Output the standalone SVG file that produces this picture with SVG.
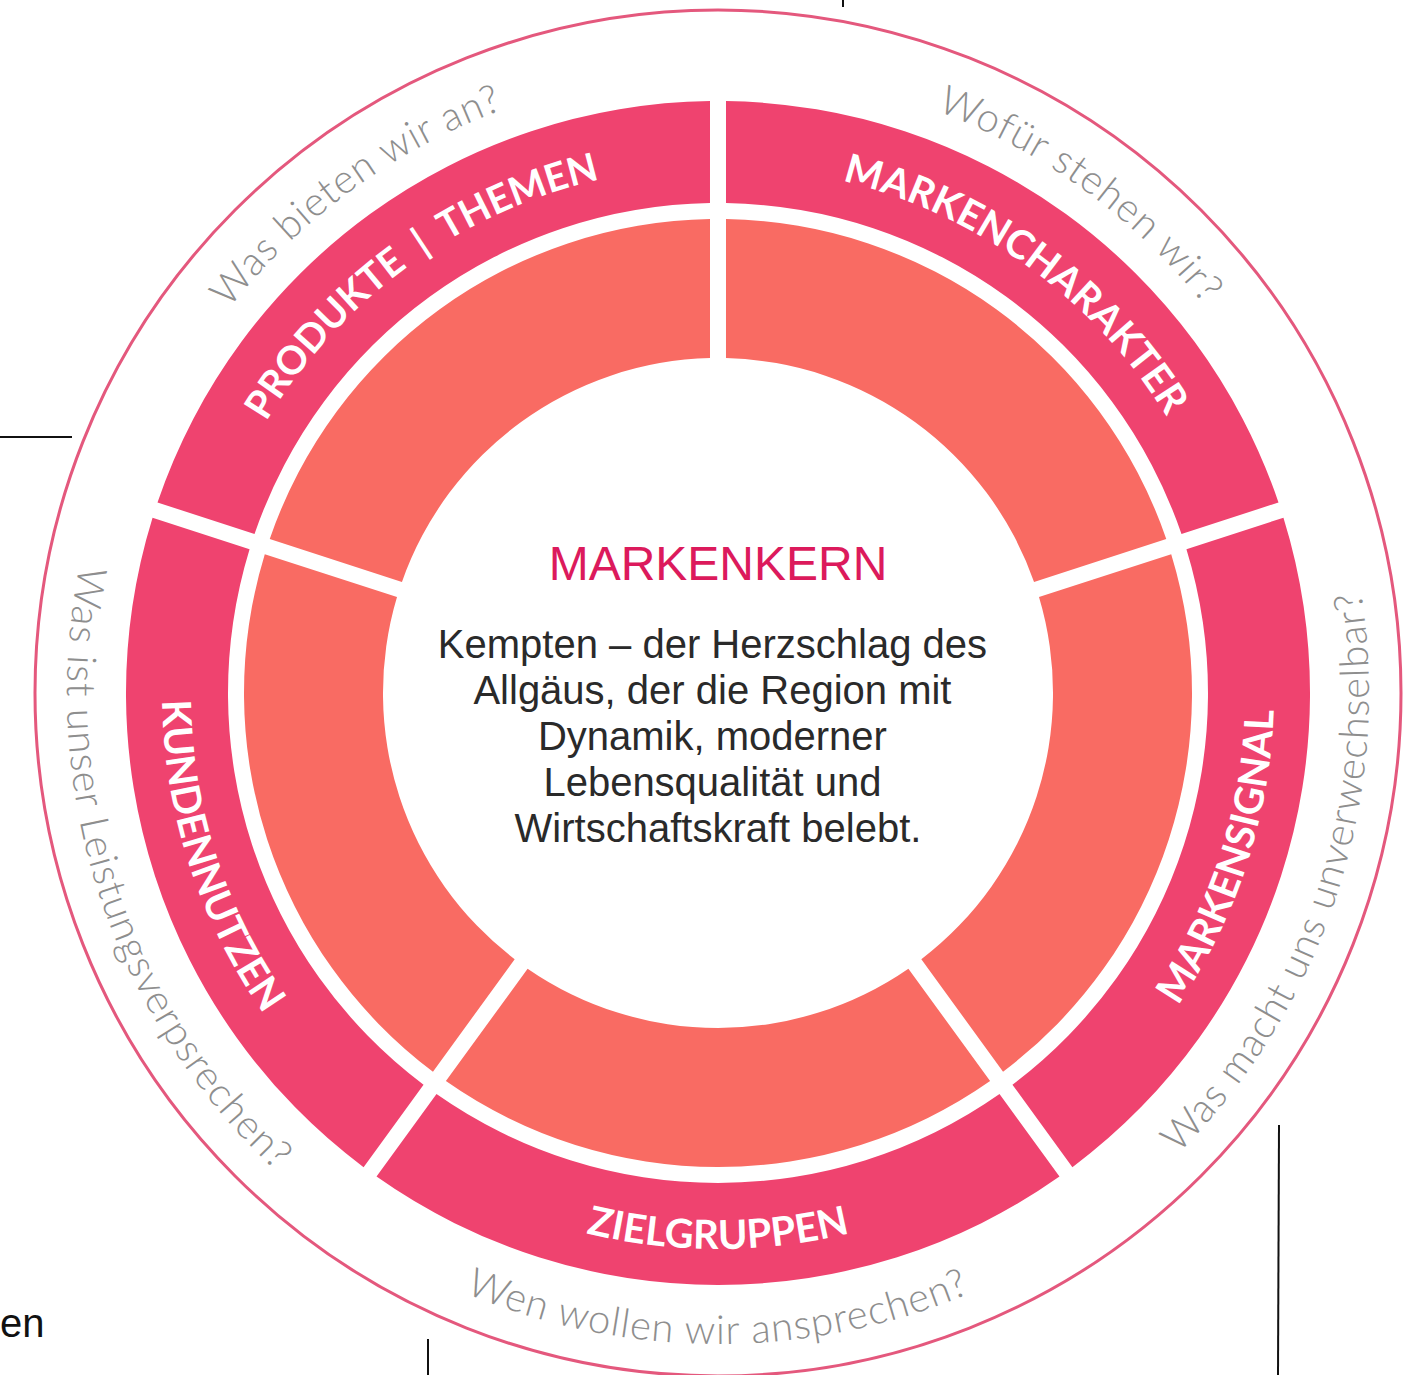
<svg xmlns="http://www.w3.org/2000/svg" width="1415" height="1375" viewBox="0 0 1415 1375">
<style>
.band{fill:#EF436F}
.inner{fill:#F96B63}
.label{font-family:Lato,"Liberation Sans",sans-serif;font-weight:700;font-size:40px;fill:#ffffff;letter-spacing:0px}
.q{font-family:Lato,"Liberation Sans",sans-serif;font-weight:300;font-size:40px;fill:#8e8e8e;letter-spacing:1px}
.title{font-family:"Liberation Sans",Arial,sans-serif;font-size:48px;fill:#DC1A5C}
.body{font-family:"Liberation Sans",Arial,sans-serif;font-size:40px;fill:#2a2a2a}
.crop{stroke:#111;stroke-width:2;fill:none}
</style>
<defs>
<path id="bandSector" d="M -341.47 -483.60 A 592 592 0 0 1 341.47 -483.60 L 281.50 -401.07 A 490 490 0 0 0 -281.50 -401.07 Z"/>
<path id="innerSector" d="M -272.10 -388.12 A 474 474 0 0 1 272.10 -388.12 L 190.39 -275.65 A 335 335 0 0 0 -190.39 -275.65 Z"/>
<path id="labelCW" d="M -456.40 -263.5 A 527 527 0 0 1 456.40 -263.5"/>
<path id="labelCCW" d="M -481.51 278 A 556 556 0 0 0 481.51 278"/>
<path id="qCW" d="M -538.67 -311 A 622 622 0 0 1 538.67 -311"/>
<path id="qCCW" d="M -563.78 325.5 A 651 651 0 0 0 563.78 325.5"/>
</defs>
<rect width="1415" height="1375" fill="#ffffff"/>
<circle id="outer-ring" cx="718" cy="693" r="683" fill="none" stroke="#E4587D" stroke-width="3"/>

<g id="produkte-themen">
<use href="#bandSector" class="band" transform="translate(718 693) rotate(-36)"/>
<use href="#innerSector" class="inner" transform="translate(718 693) rotate(-36)"/>
<text class="label" text-anchor="middle" transform="translate(718 693) rotate(-36)" style="font-size:39px"><textPath href="#labelCW" startOffset="50%">PRODUKTE&#160; | &#160;THEMEN</textPath></text>
<text class="q" text-anchor="middle" transform="translate(718 693) rotate(-36)"><textPath href="#qCW" startOffset="50%">Was bieten wir an?</textPath></text>
</g>

<g id="markencharakter">
<use href="#bandSector" class="band" transform="translate(718 693) rotate(36)"/>
<use href="#innerSector" class="inner" transform="translate(718 693) rotate(36)"/>
<text class="label" text-anchor="middle" transform="translate(718 693) rotate(36)"><textPath href="#labelCW" startOffset="50%">MARKENCHARAKTER</textPath></text>
<text class="q" text-anchor="middle" transform="translate(718 693) rotate(36)"><textPath href="#qCW" startOffset="50%">Wofür stehen wir?</textPath></text>
</g>

<g id="markensignal">
<use href="#bandSector" class="band" transform="translate(718 693) rotate(108)"/>
<use href="#innerSector" class="inner" transform="translate(718 693) rotate(108)"/>
<text class="label" text-anchor="middle" transform="translate(718 693) rotate(-72)"><textPath href="#labelCCW" startOffset="50%">MARKENSIGNAL</textPath></text>
<text class="q" text-anchor="middle" transform="translate(718 693) rotate(-72)"><textPath href="#qCCW" startOffset="50%">Was macht uns unverwechselbar?</textPath></text>
</g>

<g id="zielgruppen">
<use href="#bandSector" class="band" transform="translate(718 693) rotate(180)"/>
<use href="#innerSector" class="inner" transform="translate(718 693) rotate(180)"/>
<text class="label" text-anchor="middle" transform="translate(718 693)"><textPath href="#labelCCW" startOffset="50%">ZIELGRUPPEN</textPath></text>
<text class="q" text-anchor="middle" transform="translate(718 693)"><textPath href="#qCCW" startOffset="50%">Wen wollen wir ansprechen?</textPath></text>
</g>

<g id="kundennutzen">
<use href="#bandSector" class="band" transform="translate(718 693) rotate(252)"/>
<use href="#innerSector" class="inner" transform="translate(718 693) rotate(252)"/>
<text class="label" text-anchor="middle" transform="translate(718 693) rotate(72)"><textPath href="#labelCCW" startOffset="50%">KUNDENNUTZEN</textPath></text>
<text class="q" text-anchor="middle" transform="translate(718 693) rotate(72)"><textPath href="#qCCW" startOffset="50%">Was ist unser Leistungsverpsrechen?</textPath></text>
</g>

<g id="markenkern">
<text class="title" x="718" y="580" text-anchor="middle">MARKENKERN</text>
<text class="body" text-anchor="middle">
<tspan x="718" y="658">Kempten – der Herzschlag des</tspan>
<tspan x="718" y="704">Allgäus, der die Region mit</tspan>
<tspan x="718" y="750">Dynamik, moderner</tspan>
<tspan x="718" y="796">Lebensqualität und</tspan>
<tspan x="718" y="842">Wirtschaftskraft belebt.</tspan>
</text>
</g>

<g id="connectors">
<line class="crop" x1="843" y1="0" x2="843" y2="7"/>
<line class="crop" x1="0" y1="437" x2="72" y2="437"/>
<line class="crop" x1="428" y1="1339" x2="428" y2="1375"/>
<line class="crop" x1="1279" y1="1125" x2="1278" y2="1375"/>
</g>
<text x="0" y="1337" font-family="Liberation Sans, Arial, sans-serif" font-size="40" fill="#111">en</text>
</svg>
